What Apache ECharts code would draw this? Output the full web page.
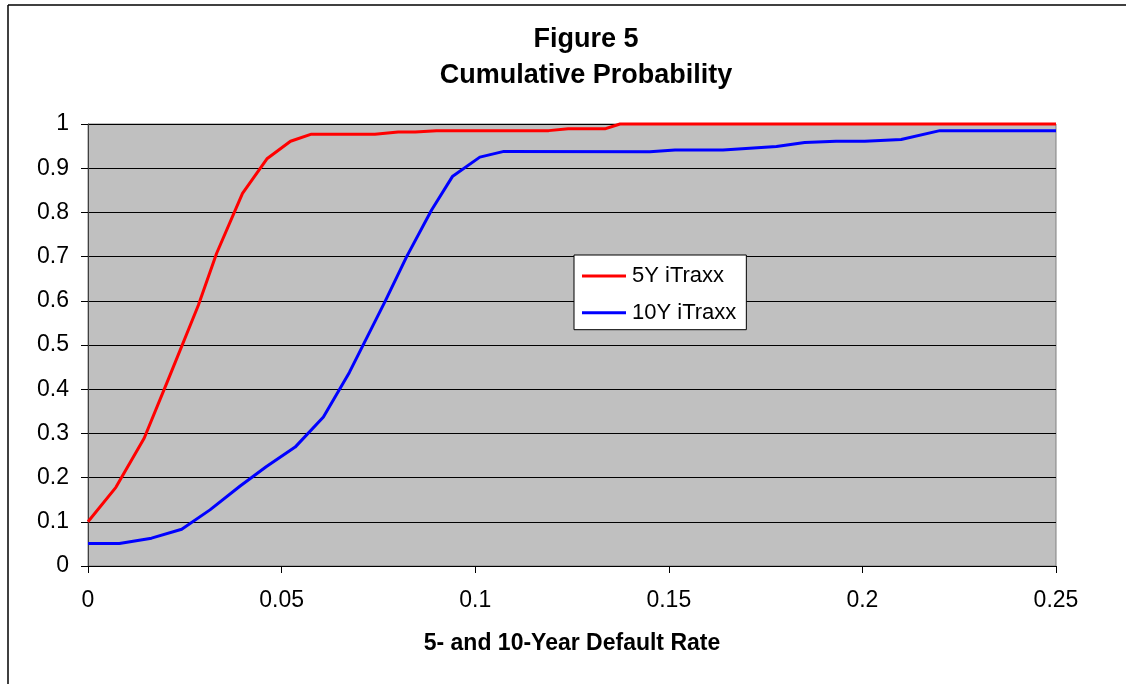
<!DOCTYPE html>
<html>
<head>
<meta charset="utf-8">
<script src="https://cdn.jsdelivr.net/npm/echarts@6/dist/echarts.min.js"></script>
<style>
  html, body { margin: 0; padding: 0; background: #fff; }
  #chart { width: 1126px; height: 684px; }
</style>
</head>
<body>
<div id="chart"></div>
<script>
// Data
const titleLines = ['Figure 5', 'Cumulative Probability'];
const xAxisName = '5- and 10-Year Default Rate';
const seriesNames = ['5Y iTraxx', '10Y iTraxx'];

const x5Y = [0, 0.0072, 0.0145, 0.021, 0.0285, 0.0332, 0.0399, 0.0463, 0.0523, 0.0577, 0.0741, 0.0801, 0.0845, 0.09, 0.119, 0.124, 0.1335, 0.1374, 0.25];
const p5Y = [0.1, 0.178, 0.289, 0.428, 0.59, 0.707, 0.843, 0.922, 0.961, 0.977, 0.977, 0.982, 0.982, 0.985, 0.985, 0.989, 0.989, 1.0, 1.0];

const x10Y = [0, 0.0081, 0.0164, 0.0242, 0.0315, 0.0393, 0.0461, 0.0535, 0.0608, 0.0675, 0.0767, 0.0823, 0.0887, 0.0941, 0.1012, 0.1074, 0.1451, 0.1516, 0.164, 0.1778, 0.1851, 0.1932, 0.2006, 0.21, 0.22, 0.25];
const p10Y = [0.051, 0.051, 0.063, 0.083, 0.127, 0.181, 0.225, 0.269, 0.337, 0.438, 0.598, 0.700, 0.805, 0.881, 0.925, 0.938, 0.937, 0.941, 0.941, 0.949, 0.958, 0.961, 0.961, 0.965, 0.985, 0.985];

const xTicks = { min: 0, max: 0.25, step: 0.05 };
const yTicks = { min: 0, max: 1, step: 0.1 };

const zip = (xs, ys) => xs.map((x, i) => [x, ys[i]]);
const fmt = v => String(parseFloat(v.toFixed(4)));

const chart = echarts.init(document.getElementById('chart'), null, { renderer: 'canvas' });
const font = '"Liberation Sans", Arial, sans-serif';

chart.setOption({
  animation: false,
  backgroundColor: '#ffffff',
  textStyle: { fontFamily: font },
  title: {
    text: titleLines.join('\n'),
    left: 581,
    top: 17,
    textAlign: 'center',
    textStyle: { fontFamily: font, fontSize: 27, fontWeight: 'bold', color: '#000', lineHeight: 36 }
  },
  graphic: [
    { type: 'line', shape: { x1: 8, y1: 5, x2: 8, y2: 684 }, style: { stroke: '#000', lineWidth: 1.5 }, silent: true },
    { type: 'line', shape: { x1: 8, y1: 5, x2: 1126, y2: 5 }, style: { stroke: '#000', lineWidth: 1.5 }, silent: true }
  ],
  legend: {
    orient: 'vertical',
    left: 574,
    top: 255,
    data: seriesNames,
    icon: 'rect',
    itemWidth: 44,
    itemHeight: 3,
    itemGap: 14.7,
    padding: [10, 10, 6, 8],
    backgroundColor: '#ffffff',
    borderColor: '#000',
    borderWidth: 1,
    borderRadius: 0,
    textStyle: { fontFamily: font, fontSize: 22, color: '#000', lineHeight: 22, padding: [0, 0, 0, 1] }
  },
  grid: {
    left: 88, right: 70, top: 124, bottom: 118,
    show: true,
    backgroundColor: '#C0C0C0',
    borderColor: '#808080',
    borderWidth: 1,
    containLabel: false
  },
  xAxis: {
    type: 'value',
    min: xTicks.min, max: xTicks.max, interval: xTicks.step,
    name: xAxisName,
    nameLocation: 'middle',
    nameGap: 66,
    nameTextStyle: { fontFamily: font, fontSize: 23, fontWeight: 'bold', color: '#000' },
    axisLine: { show: true, onZero: false, lineStyle: { color: '#000', width: 1 } },
    axisTick: { show: true, inside: false, length: 7, lineStyle: { color: '#000' } },
    axisLabel: { margin: 23, fontSize: 23, color: '#000', fontFamily: font, formatter: fmt },
    splitLine: { show: false }
  },
  yAxis: {
    type: 'value',
    min: yTicks.min, max: yTicks.max, interval: yTicks.step,
    axisLine: { show: true, lineStyle: { color: '#404040', width: 1 } },
    axisTick: { show: true, inside: false, length: 7, lineStyle: { color: '#000' } },
    axisLabel: { margin: 19, fontSize: 23, color: '#000', fontFamily: font, formatter: fmt },
    splitLine: { show: true, lineStyle: { color: '#000', width: 1 } }
  },
  series: [
    {
      name: seriesNames[0], type: 'line', data: zip(x5Y, p5Y),
      symbol: 'none', clip: false,
      lineStyle: { color: '#FF0000', width: 3 }, itemStyle: { color: '#FF0000' }
    },
    {
      name: seriesNames[1], type: 'line', data: zip(x10Y, p10Y),
      symbol: 'none', clip: false,
      lineStyle: { color: '#0000FF', width: 3 }, itemStyle: { color: '#0000FF' }
    }
  ]
});
</script>
</body>
</html>
